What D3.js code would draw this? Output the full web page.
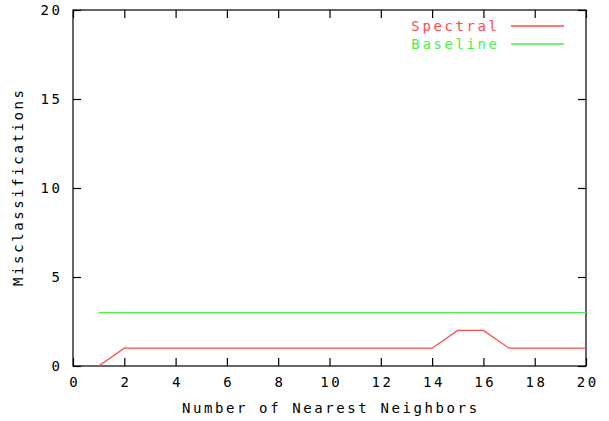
<!DOCTYPE html>
<html>
<head>
<meta charset="utf-8">
<script src="https://cdn.jsdelivr.net/npm/d3@7"></script>
<style>
    body { margin: 0; background: #fff; }
    svg { display: block; }
    text { font-family: "DejaVu Sans Mono", "Liberation Mono", monospace; font-size: 14px; letter-spacing: 2.6px; fill: #000; }
</style>
</head>
<body>
<svg id="chart" width="609" height="421"></svg>
<script>
// data
const neighbors = [1, 2, 3, 4, 5, 6, 7, 8, 9, 10, 11, 12, 13, 14, 15, 16, 17, 18, 19, 20];
const spectral = [0, 1, 1, 1, 1, 1, 1, 1, 1, 1, 1, 1, 1, 1, 2, 2, 1, 1, 1, 1];
const baseline = [3, 3, 3, 3, 3, 3, 3, 3, 3, 3, 3, 3, 3, 3, 3, 3, 3, 3, 3, 3];
const xTicks = [0, 2, 4, 6, 8, 10, 12, 14, 16, 18, 20];
const yTicks = [0, 5, 10, 15, 20];

const series = [
    { name: 'Spectral', values: spectral, color: '#ff4a4a' },
    { name: 'Baseline', values: baseline, color: '#48f048' }
];

const margin = { top: 10, right: 23, bottom: 55, left: 73 };
const width = 609, height = 421;
const LS = 2.6; // letter spacing, trailing gap shifts end-anchored text

const svg = d3.select('#chart');

const x = d3.scaleLinear().domain([0, 20]).range([margin.left, width - margin.right]);
const y = d3.scaleLinear().domain([0, 20]).range([height - margin.bottom, margin.top]);

const tickLen = 8;

function styleAxis(g) {
    g.select('.domain').remove();
    g.selectAll('line').attr('stroke', '#000').attr('stroke-width', 1.2);
}

// bottom axis, ticks point inward
svg.append('g')
    .attr('transform', `translate(0,${y(0)})`)
    .call(d3.axisBottom(x).tickValues(xTicks).tickSizeInner(-tickLen).tickSizeOuter(0).tickPadding(14))
    .call(styleAxis)
    .call(g => g.selectAll('text').attr('dx', LS / 2).attr('dy', '0.5em'));

// top mirror ticks
svg.append('g')
    .attr('transform', `translate(0,${y(20)})`)
    .call(d3.axisTop(x).tickValues(xTicks).tickSizeInner(-tickLen).tickSizeOuter(0).tickFormat(''))
    .call(styleAxis);

// left axis
svg.append('g')
    .attr('transform', `translate(${x(0)},0)`)
    .call(d3.axisLeft(y).tickValues(yTicks).tickSizeInner(-tickLen).tickSizeOuter(0).tickPadding(13))
    .call(styleAxis)
    .call(g => g.selectAll('text').attr('dx', LS));

// right mirror ticks
svg.append('g')
    .attr('transform', `translate(${x(20)},0)`)
    .call(d3.axisRight(y).tickValues(yTicks).tickSizeInner(-tickLen).tickSizeOuter(0).tickFormat(''))
    .call(styleAxis);

// frame
svg.append('rect')
    .attr('x', x(0)).attr('y', y(20))
    .attr('width', x(20) - x(0)).attr('height', y(0) - y(20))
    .attr('fill', 'none').attr('stroke', '#000').attr('stroke-width', 1.2);

// lines
const line = d3.line()
    .x((d, i) => x(neighbors[i]))
    .y(d => y(d));

svg.append('g').selectAll('path')
    .data(series)
    .enter().append('path')
    .attr('d', s => line(s.values))
    .attr('fill', 'none')
    .attr('stroke', s => s.color)
    .attr('stroke-width', 1.3);

// legend
const legend = svg.append('g').selectAll('g')
    .data(series)
    .enter().append('g')
    .attr('transform', (s, i) => `translate(0,${26 + i * 18})`);

legend.append('text')
    .attr('x', 497 + LS)
    .attr('dy', '0.35em')
    .attr('text-anchor', 'end')
    .style('fill', s => s.color)
    .text(s => s.name);

legend.append('line')
    .attr('x1', 511).attr('x2', 564)
    .attr('stroke', s => s.color)
    .attr('stroke-width', 1.3);

// axis titles
svg.append('text')
    .attr('x', (x(0) + x(20)) / 2 + LS / 2)
    .attr('y', 413)
    .attr('text-anchor', 'middle')
    .text('Number of Nearest Neighbors');

svg.append('text')
    .attr('transform', `translate(23,${(y(0) + y(20)) / 2}) rotate(-90)`)
    .attr('text-anchor', 'middle')
    .attr('dx', LS / 2)
    .text('Misclassifications');
</script>
</body>
</html>
